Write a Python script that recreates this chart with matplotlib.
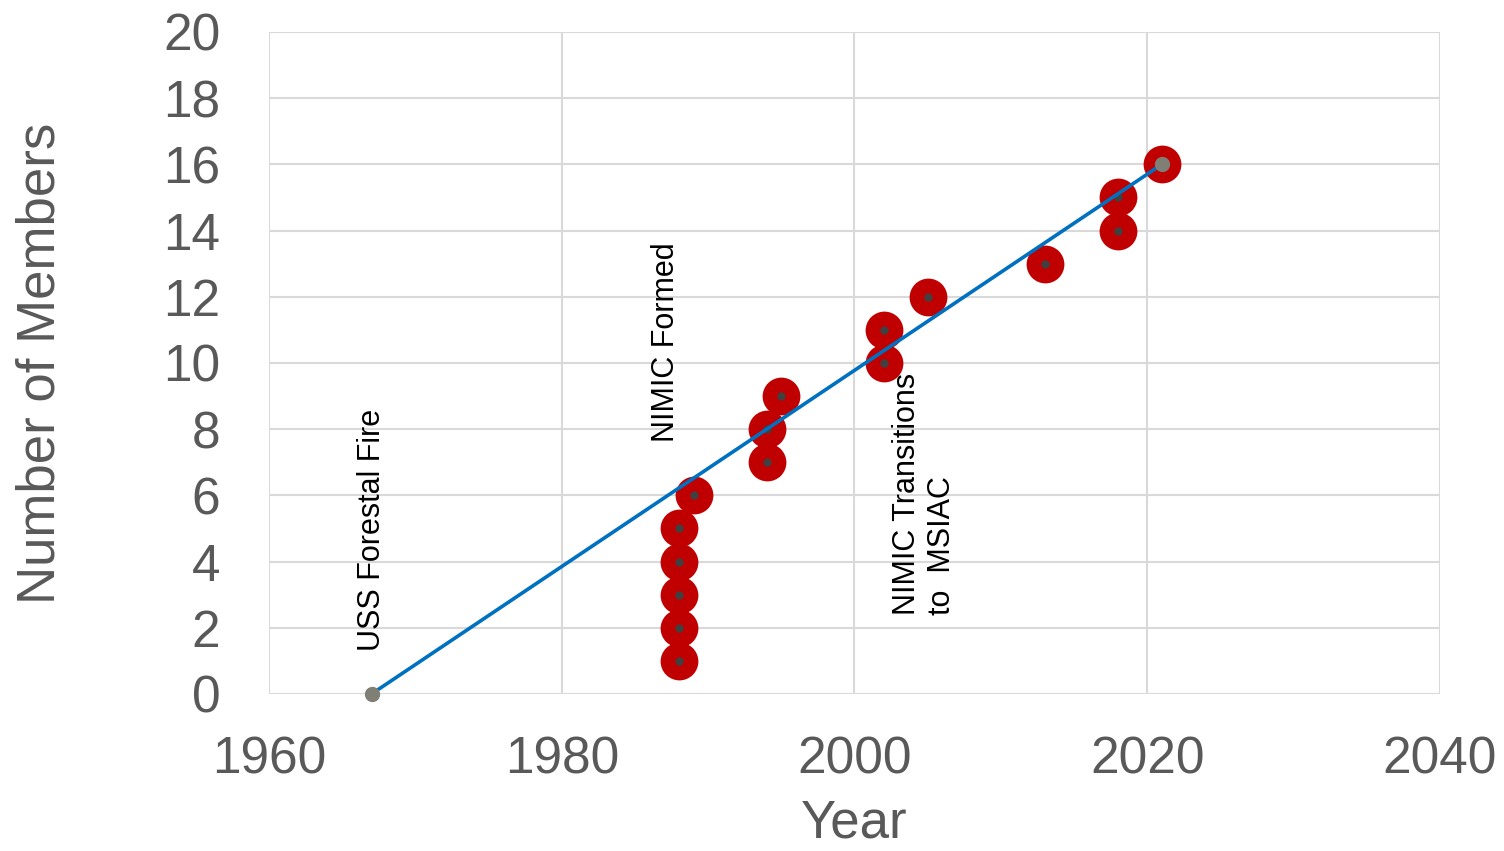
import numpy as np
import matplotlib.pyplot as plt

plt.rcParams['font.family'] = ['Liberation Sans', 'DejaVu Sans']

# membership growth by year
years = [1988, 1988, 1988, 1988, 1988, 1989, 1994, 1994, 1995,
         2002, 2002, 2005, 2013, 2018, 2018, 2021]
members = [1, 2, 3, 4, 5, 6, 7, 8, 9, 10, 11, 12, 13, 14, 15, 16]

# trend line endpoints
trend_x = [1967, 2021]
trend_y = [0, 16]

# event labels
events = ["USS Forestal Fire", "NIMIC Formed", "NIMIC Transitions\nto  MSIAC"]
event_x = [1967, 1987.1, 2004.8]
event_y = [1.3, 7.6, 2.4]

fig = plt.figure(figsize=(15.04, 8.51), dpi=100)
ax = fig.add_axes([0.1789, 0.1845, 0.9574 - 0.1789, 0.9624 - 0.1845])

ax.scatter(years, members, s=740, color='#C00000', zorder=3, linewidths=0)
ax.scatter(years, members, s=36, color='#404040', zorder=4, linewidths=0)
ax.plot(trend_x, trend_y, color='#0070C0', lw=2.6, marker='o', ms=10,
        mfc='#7f7f75', mec='#7f7f75', zorder=5, clip_on=False)

for txt, ex, ey in zip(events, event_x, event_y):
    ax.text(ex, ey, txt, rotation=90, ha='center', va='bottom',
            multialignment='left', fontsize=22, color='black', zorder=6)

ax.set_xlim(1960, 2040)
ax.set_ylim(0, 20)
ax.set_xticks(np.arange(1960, 2041, 20))
ax.set_yticks(np.arange(0, 21, 2))
ax.grid(True, color='#d9d9d9', lw=1.5)
ax.set_axisbelow(True)
for s in ax.spines.values():
    s.set_visible(False)
ax.tick_params(length=0, labelsize=37, labelcolor='#595959')
ax.tick_params(axis='x', pad=30)
ax.tick_params(axis='y', pad=35)

ax.set_xlabel('Year', fontsize=38, color='#595959', labelpad=10)
ax.set_ylabel('Number of Members', fontsize=38, color='#595959', labelpad=70)

fig.savefig('out.png', dpi=100)
